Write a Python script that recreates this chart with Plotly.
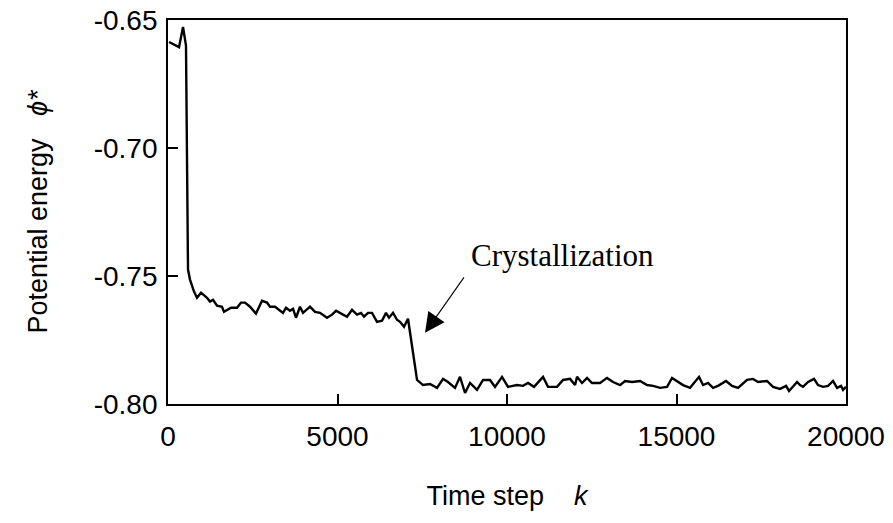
import plotly.graph_objects as go

# Time step k
time_step = [30, 325, 443, 531, 590, 649, 767, 856, 974, 1151, 1239, 1328, 1446, 1593, 1652,
             1859, 2036, 2154, 2272, 2419, 2596, 2773, 2921, 3009, 3157, 3393, 3481, 3599,
             3688, 3776, 3894, 3983, 4189, 4337, 4484, 4691, 4838, 4956, 5163, 5281, 5428,
             5576, 5694, 5782, 5900, 6018, 6166, 6313, 6431, 6520, 6638, 6756, 6844, 6962,
             7080, 7346, 7523, 7729, 7936, 8113, 8260, 8467, 8614, 8762, 8909, 9116, 9293,
             9499, 9647, 9853, 10030, 10296, 10473, 10620, 10797, 11063, 11210, 11476, 11653,
             11859, 12007, 12066, 12213, 12361, 12508, 12744, 12951, 13128, 13334, 13482,
             13688, 13924, 14131, 14308, 14514, 14721, 14868, 15016, 15193, 15399, 15547,
             15665, 15783, 15930, 16078, 16225, 16461, 16638, 16815, 17081, 17258, 17405,
             17671, 17848, 18054, 18232, 18320, 18438, 18556, 18644, 18733, 18880, 19057,
             19175, 19323, 19470, 19618, 19736, 19854, 19913, 20000]

# Potential energy phi*
potential = [-0.6586, -0.6606, -0.6527, -0.6600, -0.7475, -0.7514, -0.7561, -0.7585, -0.7565,
             -0.7585, -0.7600, -0.7593, -0.7616, -0.7620, -0.7640, -0.7624, -0.7624, -0.7604,
             -0.7604, -0.7620, -0.7647, -0.7597, -0.7604, -0.7620, -0.7620, -0.7644, -0.7624,
             -0.7636, -0.7628, -0.7663, -0.7620, -0.7644, -0.7620, -0.7640, -0.7644, -0.7663,
             -0.7651, -0.7636, -0.7651, -0.7659, -0.7632, -0.7651, -0.7644, -0.7659, -0.7644,
             -0.7644, -0.7679, -0.7675, -0.7644, -0.7663, -0.7644, -0.7671, -0.7679, -0.7698,
             -0.7667, -0.7906, -0.7926, -0.7922, -0.7937, -0.7902, -0.7914, -0.7937, -0.7894,
             -0.7957, -0.7918, -0.7945, -0.7906, -0.7906, -0.7933, -0.7894, -0.7933, -0.7926,
             -0.7929, -0.7918, -0.7933, -0.7894, -0.7933, -0.7933, -0.7906, -0.7902, -0.7926,
             -0.7894, -0.7918, -0.7898, -0.7918, -0.7918, -0.7898, -0.7914, -0.7926, -0.7910,
             -0.7914, -0.7910, -0.7926, -0.7929, -0.7937, -0.7933, -0.7898, -0.7910, -0.7926,
             -0.7937, -0.7914, -0.7894, -0.7926, -0.7918, -0.7937, -0.7929, -0.7910, -0.7929,
             -0.7937, -0.7906, -0.7902, -0.7914, -0.7910, -0.7933, -0.7941, -0.7929, -0.7949,
             -0.7933, -0.7914, -0.7926, -0.7933, -0.7914, -0.7902, -0.7926, -0.7933, -0.7929,
             -0.7910, -0.7937, -0.7929, -0.7945, -0.7933]

x_tick_vals = [0, 5000, 10000, 15000, 20000]
x_tick_text = ["0", "5000", "10000", "15000", "20000"]
y_tick_vals = [-0.80, -0.75, -0.70, -0.65]
y_tick_text = ["-0.80", "-0.75", "-0.70", "-0.65"]

fig = go.Figure()
fig.add_trace(go.Scatter(x=time_step, y=potential, mode="lines",
                         line=dict(color="black", width=2.4), showlegend=False))

tick_font = dict(family="Liberation Sans, Arial, sans-serif", size=28, color="black")
title_font = dict(family="Liberation Sans, Arial, sans-serif", size=27, color="black")

fig.update_xaxes(range=[0, 20000], tickvals=x_tick_vals, ticktext=x_tick_text,
                 ticks="inside", ticklen=10, tickwidth=1.5, tickcolor="black",
                 showline=True, linecolor="black", linewidth=1.8, mirror=True,
                 showgrid=False, zeroline=False, tickfont=tick_font,
                 ticklabelstandoff=6, automargin=False, ticklabeloverflow="allow",
                 title=dict(text="Time step&nbsp;&nbsp;&nbsp;&nbsp;<i>k</i>", font=title_font, standoff=36))
fig.update_yaxes(range=[-0.80, -0.65], tickvals=y_tick_vals, ticktext=y_tick_text,
                 ticks="inside", ticklen=10, tickwidth=1.5, tickcolor="black",
                 showline=True, linecolor="black", linewidth=1.8, mirror=True,
                 showgrid=False, zeroline=False, tickfont=tick_font,
                 ticklabelstandoff=3, automargin=False, ticklabeloverflow="allow",
                 title=dict(text="Potential energy&nbsp;&nbsp;&nbsp;<i>ϕ*</i>", font=title_font, standoff=38))

fig.add_annotation(x=11623, y=-0.742, text="Crystallization", showarrow=False,
                   font=dict(family="Liberation Serif, Times New Roman, serif", size=31, color="black"))
fig.add_annotation(x=7582, y=-0.7722, ax=40, ay=-57, text="", showarrow=True,
                   arrowhead=2, arrowsize=3.6, arrowwidth=1.1, arrowcolor="black")

fig.update_layout(width=893, height=523, margin=dict(l=168, r=47, t=20, b=119),
                  paper_bgcolor="white", plot_bgcolor="white")

fig.write_html("out.html", config={"displayModeBar": False},
               post_script="document.body.style.margin='0';document.body.style.overflow='hidden';")
